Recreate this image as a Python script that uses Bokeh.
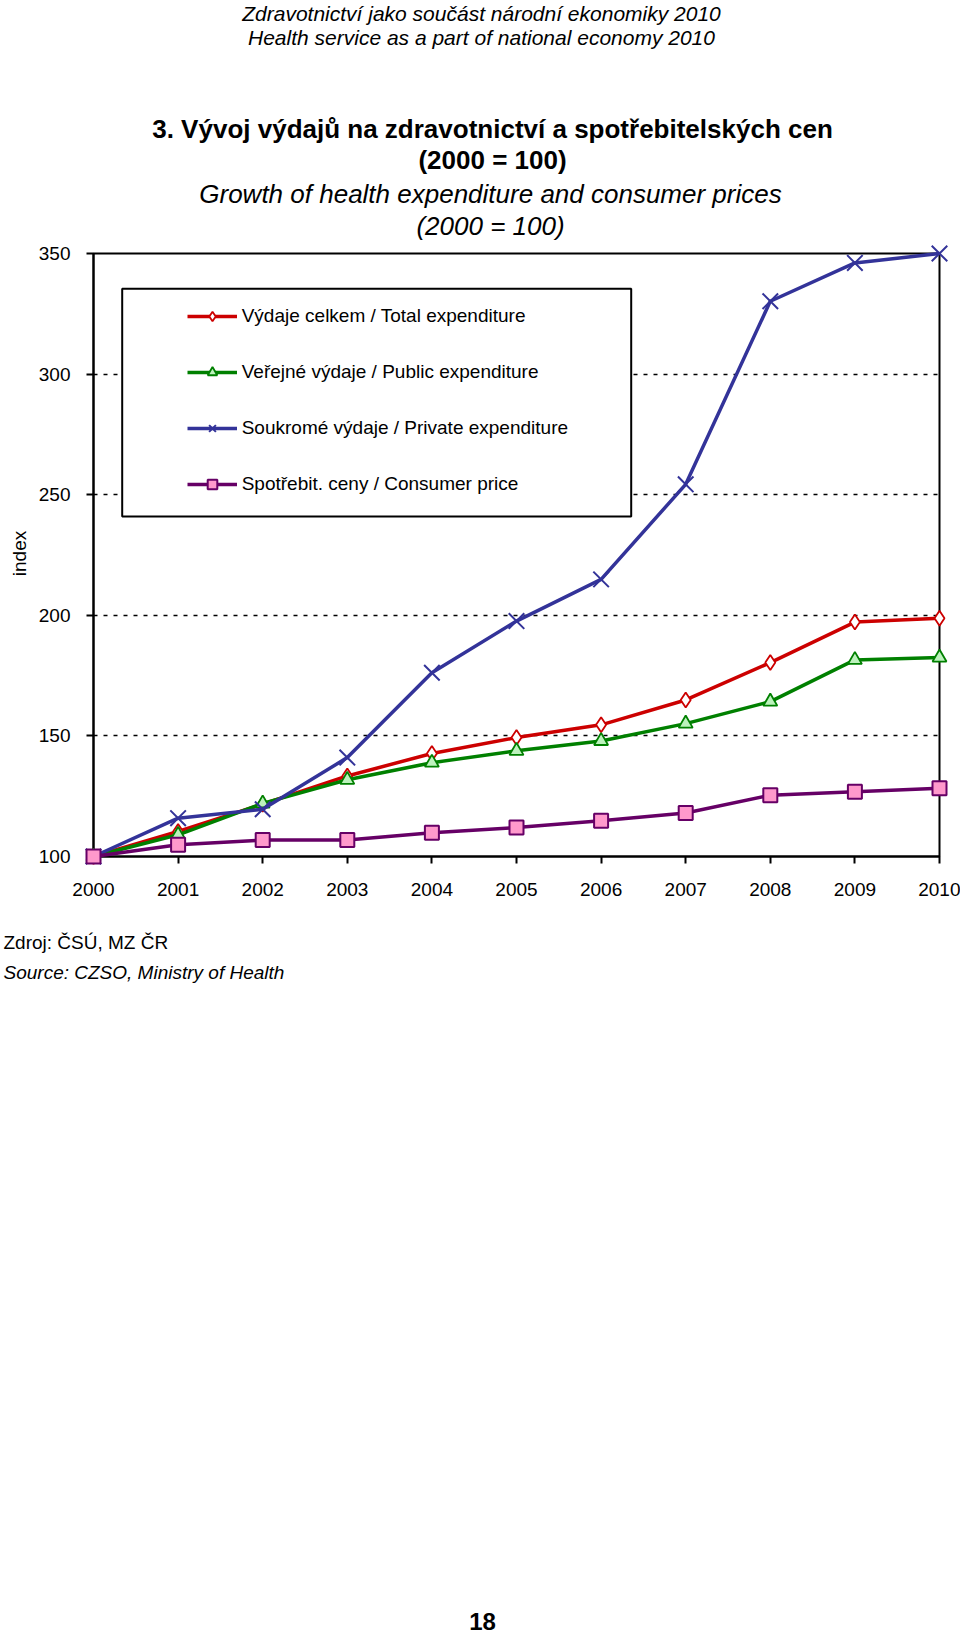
import math
from bokeh.plotting import figure
from bokeh.models import Range1d, FixedTicker, Legend, LegendItem, BoxAnnotation
from bokeh.core.properties import value
from bokeh.embed import file_html
from bokeh.resources import INLINE

# ---------------- data ----------------
years = [2000, 2001, 2002, 2003, 2004, 2005, 2006, 2007, 2008, 2009, 2010]
total_exp = [100, 110.4, 121.7, 133.4, 142.7, 149.3, 154.6, 164.9, 180.4, 197.2, 198.8]
public_exp = [100, 109.0, 122.0, 131.8, 138.9, 143.8, 147.9, 155.1, 164.2, 181.5, 182.5]
private_exp = [100, 115.9, 119.6, 141.0, 176.2, 197.6, 214.9, 254.3, 330.2, 346.1, 350.0]
consumer_prices = [100, 104.9, 106.8, 106.8, 109.8, 112.0, 114.8, 118.0, 125.4, 126.8, 128.3]
series_labels = [
    "Výdaje celkem / Total expenditure",
    "Veřejné výdaje / Public expenditure",
    "Soukromé výdaje / Private expenditure",
    "Spotřebit. ceny / Consumer price",
]
y_ticks = [100, 150, 200, 250, 300, 350]
grid_ticks = [150, 200, 250, 300]

SANS = "Liberation Sans"

W, H = 960, 1637
FL, FR, FT, FB = 93, 939, 253, 856   # frame edges in page px
X0, X1, Y0, Y1 = 2000, 2010, 100, 350

p = figure(width=W, height=H, x_range=Range1d(X0, X1), y_range=Range1d(Y0, Y1),
           output_backend="svg", toolbar_location=None,
           min_border_left=FL, min_border_right=W - FR,
           min_border_top=FT, min_border_bottom=H - FB)
p.background_fill_color = "white"
p.border_fill_color = "white"
p.outline_line_color = "black"
p.outline_line_width = 2
p.outline_line_alpha = 1

p.xaxis.ticker = FixedTicker(ticks=years)
p.yaxis.ticker = FixedTicker(ticks=y_ticks)
for ax in (p.xaxis, p.yaxis):
    ax.axis_line_color = "black"
    ax.axis_line_width = 2
    ax.major_tick_line_color = "black"
    ax.major_tick_line_width = 2
    ax.major_tick_out = 7
    ax.major_tick_in = 0
    ax.minor_tick_out = 0
    ax.minor_tick_in = 0
    ax.major_label_text_font = SANS
    ax.major_label_text_font_size = "19px"
    ax.major_label_text_color = "black"
p.yaxis.major_label_standoff = 16
p.xaxis.major_label_standoff = 19

p.xgrid.visible = False
p.ygrid.ticker = FixedTicker(ticks=grid_ticks)
p.ygrid.grid_line_color = "black"
p.ygrid.grid_line_width = 1.7
p.ygrid.grid_line_dash = "4 6"

# page px -> frame screen units (y up from frame bottom)
def sx(px):
    return px - FL

def sy(py):
    return FB - py

# page px -> data units (for free texts drawn as overlay glyphs)
def dx(px):
    return X0 + (px - FL) * (X1 - X0) / (FR - FL)

def dy(py):
    return Y0 + (FB - py) * (Y1 - Y0) / (FB - FT)

box = BoxAnnotation(left=sx(121.7), right=sx(630.7), top=sy(288.3), bottom=sy(516),
                    left_units="screen", right_units="screen", top_units="screen", bottom_units="screen",
                    fill_color="white", fill_alpha=1, line_color="black", line_width=2, line_alpha=1)
p.add_layout(box)

styles = [
    dict(color="#CC0000", marker="diamond", size=15, fill="white", lw=1.8),
    dict(color="#008000", marker="triangle", size=14, fill="#BDF2BD", lw=1.8),
    dict(color="#333399", marker="x", size=22, fill="#333399", lw=2),
    dict(color="#660066", marker="square", size=14, fill="#FF99CC", lw=2),
]
series = [total_exp, public_exp, private_exp, consumer_prices]

items = []
for vals, lab, st in zip(series, series_labels, styles):
    rl = p.line(years, vals, line_color=st["color"], line_width=3.5, level="overlay")
    rm = p.scatter(years, vals, marker=st["marker"], size=st["size"], fill_color=st["fill"],
                   line_color=st["color"], line_width=st["lw"], level="overlay")
    items.append(LegendItem(label=lab, renderers=[rl, rm]))

legend = Legend(items=items, location=(sx(176.7), sy(506)), padding=10, spacing=32,
                glyph_height=24, glyph_width=50, label_height=24, label_standoff=5,
                label_text_font=SANS, label_text_font_size="19px", label_text_color="black",
                border_line_alpha=0, background_fill_alpha=0, margin=0)
p.add_layout(legend)

def add_text(text, px, py, size, style="normal", align="center", angle=0.0):
    p.text(x=[dx(px)], y=[dy(py)], text=[text], text_font=value(SANS),
           text_font_size=value(size), text_font_style=value(style),
           text_align=value(align), text_baseline=value("middle"),
           text_color="black", angle=angle, level="overlay")

add_text("Zdravotnictví jako součást národní ekonomiky 2010", 481, 13, "21px", "italic")
add_text("Health service as a part of national economy 2010", 481, 37, "21px", "italic")
add_text("3. Vývoj výdajů na zdravotnictví a spotřebitelských cen", 492, 128, "26px", "bold")
add_text("(2000 = 100)", 492, 159, "26px", "bold")
add_text("Growth of health expenditure and consumer prices", 490, 193, "26px", "italic")
add_text("(2000 = 100)", 490, 225, "26px", "italic")
add_text("index", 19, 553, "19px", "normal", "center", math.pi / 2)
add_text("Zdroj: ČSÚ, MZ ČR", 3, 942, "19px", "normal", "left")
add_text("Source: CZSO, Ministry of Health", 3, 972, "19px", "italic", "left")
add_text("18", 482, 1621, "24px", "bold")

open("out.html", "w").write(file_html(p, INLINE))
